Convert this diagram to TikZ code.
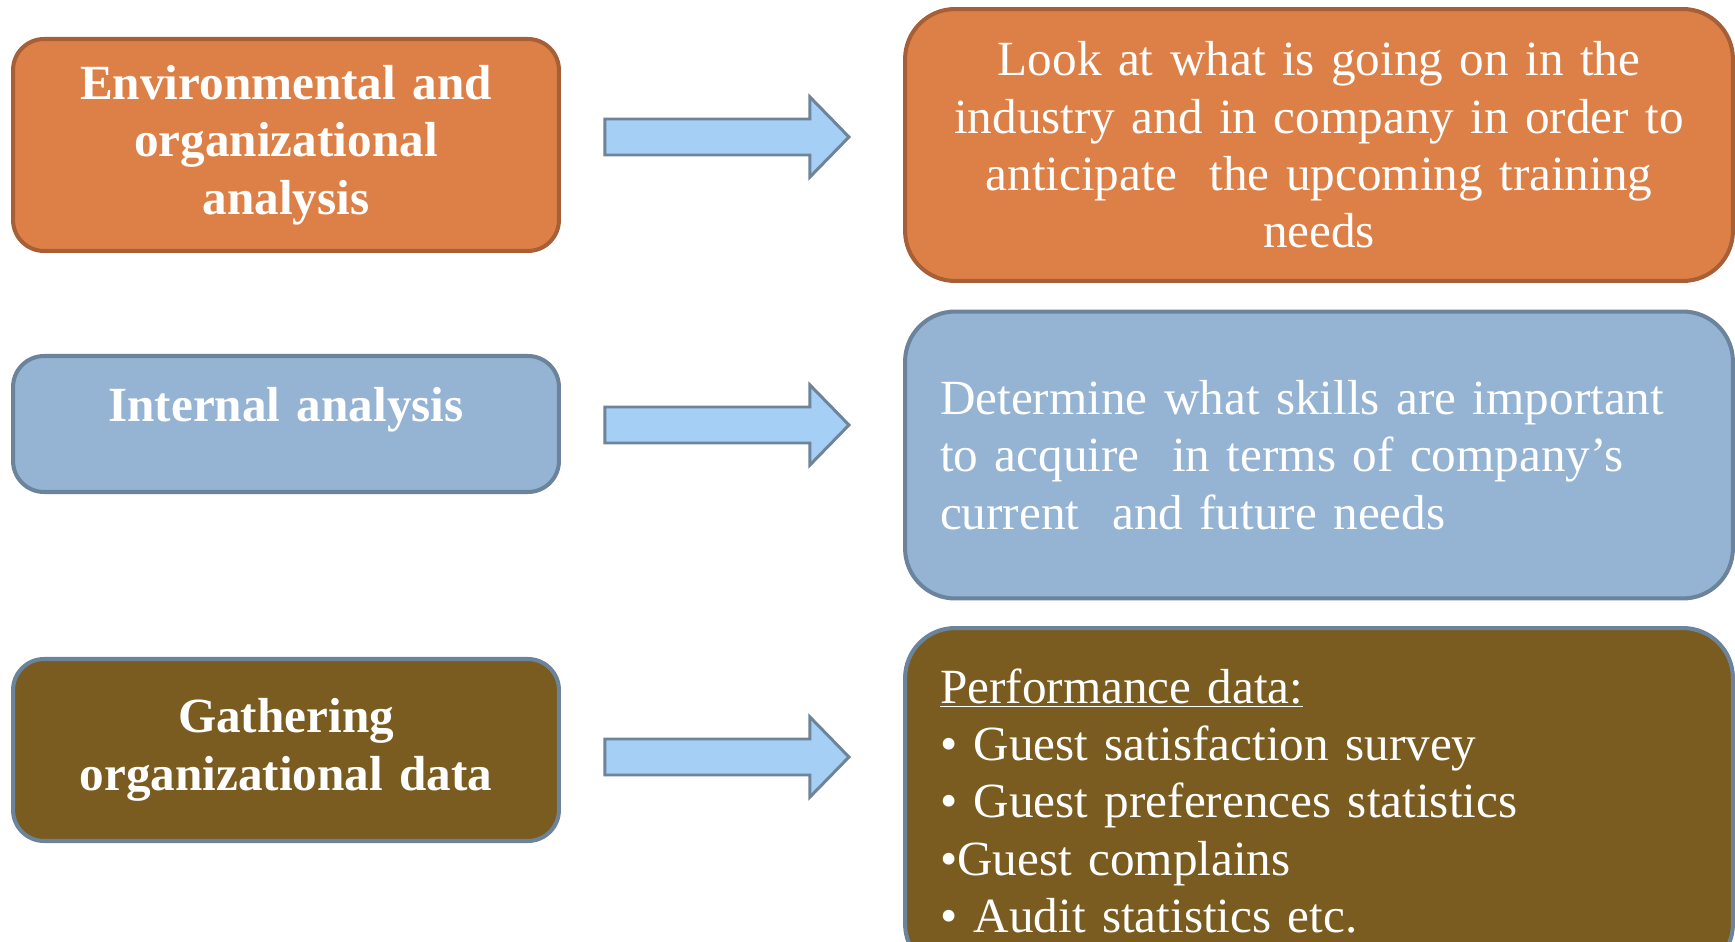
\documentclass[tikz,border=0pt]{standalone}
\usepackage{fontspec}
\setmainfont{Liberation Serif}
\usetikzlibrary{calc}

\definecolor{orangefill}{HTML}{DD8047}
\definecolor{orangedraw}{HTML}{A65F36}
\definecolor{bluefill}{HTML}{95B3D3}
\definecolor{bluedraw}{HTML}{6B849C}
\definecolor{brownfill}{HTML}{7B5C20}
\definecolor{arrowfill}{HTML}{A5CFF5}
\definecolor{arrowdraw}{HTML}{6D8499}

\begin{document}
\begin{tikzpicture}[x=0.02cm, y=-0.02cm]
  \tikzstyle{leftbox} = [rectangle, rounded corners=0.62cm, line width=2.3pt, minimum width=10.92cm, text width=10cm, align=center, text=white, font=\fontsize{28}{32.7}\selectfont\bfseries]
  \tikzstyle{rightbox} = [rectangle, rounded corners=1cm, line width=2.3pt, minimum width=16.56cm, inner xsep=0.7cm, text width=15.16cm, text=white, font=\fontsize{28}{32.7}\selectfont]
  \tikzstyle{blockarrow} = [fill=arrowfill, draw=arrowdraw, line width=1.7pt, line join=miter]

  \useasboundingbox (0,0) rectangle (1735,942);
  \clip (0,0) rectangle (1735,942);

  % Environmental row
  \node [leftbox, fill=orangefill, draw=orangedraw, minimum height=4.24cm] (env) at (286,145) {Environmental and\\organizational\\analysis};
  \node [rightbox, fill=orangefill, draw=orangedraw, minimum height=5.44cm, align=center] (envinfo) at (1319,145) {Look at what is going on in the\\industry and in company in order to\\anticipate~ the upcoming training\\needs};

  % Internal row
  \node [leftbox, fill=bluefill, draw=bluedraw, inner ysep=0pt, text height=1.32cm, text depth=1.4cm] (intern) at (286,424) {Internal analysis};
  \node [rightbox, fill=bluefill, draw=bluedraw, minimum height=5.74cm, align=left] (interninfo) at (1319,455) {Determine what skills are important\\to acquire~ in terms of company’s\\current~ and future needs};

  % Gathering row
  \node [leftbox, fill=brownfill, draw=bluedraw, minimum height=3.64cm] (gather) at (286,750) {Gathering\\organizational data};
  \node [rightbox, fill=brownfill, draw=bluedraw, minimum height=6.92cm, align=left] (gatherinfo) at (1319,801) {\underline{Performance data:}\\• Guest satisfaction survey\\• Guest preferences statistics\\•Guest complains\\• Audit statistics etc.};

  % Block arrows
  \coordinate (envarrow) at ($(env.east)+(44,-8)$);
  \coordinate (internarrow) at ($(intern.east)+(44,1)$);
  \coordinate (gatherarrow) at ($(gather.east)+(44,7)$);
  \draw [blockarrow] ($(envarrow)+(0,-18)$) -- ++(205,0) -- ++(0,-22) -- ++(39,40) -- ++(-39,40) -- ++(0,-22) -- ++(-205,0) -- cycle;
  \draw [blockarrow] ($(internarrow)+(0,-18)$) -- ++(205,0) -- ++(0,-22) -- ++(39,40) -- ++(-39,40) -- ++(0,-22) -- ++(-205,0) -- cycle;
  \draw [blockarrow] ($(gatherarrow)+(0,-18)$) -- ++(205,0) -- ++(0,-22) -- ++(39,40) -- ++(-39,40) -- ++(0,-22) -- ++(-205,0) -- cycle;
\end{tikzpicture}
\end{document}
